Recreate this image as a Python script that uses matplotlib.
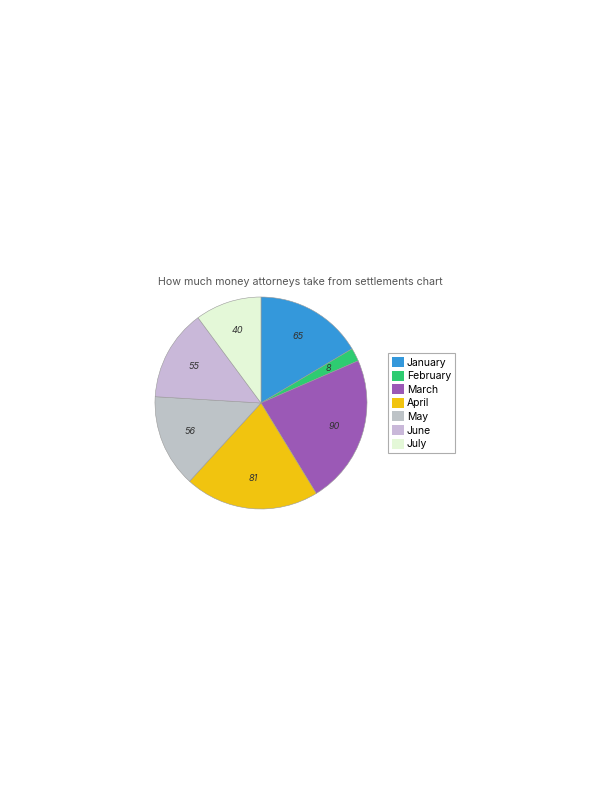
import matplotlib.pyplot as plt

months = ["January", "February", "March", "April", "May", "June", "July"]
values = [65, 8, 90, 81, 56, 55, 40]
colors = ["#3498db", "#2ecc71", "#9b59b6", "#f1c40f", "#bdc3c7", "#c9b8d9", "#e4f8d8"]

plt.rcParams['font.family'] = ['Inter', 'DejaVu Sans']

fig = plt.figure(figsize=(6, 8), dpi=100)
ax = fig.add_axes([155 / 600, 1 - 509 / 800, 212 / 600, 212 / 800])

wedges, texts = ax.pie(values, colors=colors, startangle=90, counterclock=False,
                       labels=[str(v) for v in values], labeldistance=0.72,
                       wedgeprops=dict(edgecolor="#9a9a9a", linewidth=0.4))
for t in texts:
    t.set_ha("center")
    t.set_va("center")
    t.set_fontsize(6.5)
    t.set_fontstyle("italic")
    t.set_color("#333333")
ax.set_xlim(-1, 1)
ax.set_ylim(-1, 1)
ax.set_aspect("equal")

fig.text(300 / 600, 1 - 282 / 800, "How much money attorneys take from settlements chart",
         ha="center", va="center", fontsize=7.7, color="#555555")

leg = fig.legend(wedges, months, loc="upper left", bbox_to_anchor=(388 / 600, 1 - 353 / 800),
                 fontsize=7.5, frameon=True, fancybox=False, handlelength=1.1, handleheight=1.1,
                 handletextpad=0.3, labelspacing=0.29, borderpad=0.4, borderaxespad=0)
leg.get_frame().set_edgecolor("#999999")
leg.get_frame().set_linewidth(0.8)
for h in leg.legend_handles:
    h.set_edgecolor("none")

fig.savefig("out.png", dpi=100)
